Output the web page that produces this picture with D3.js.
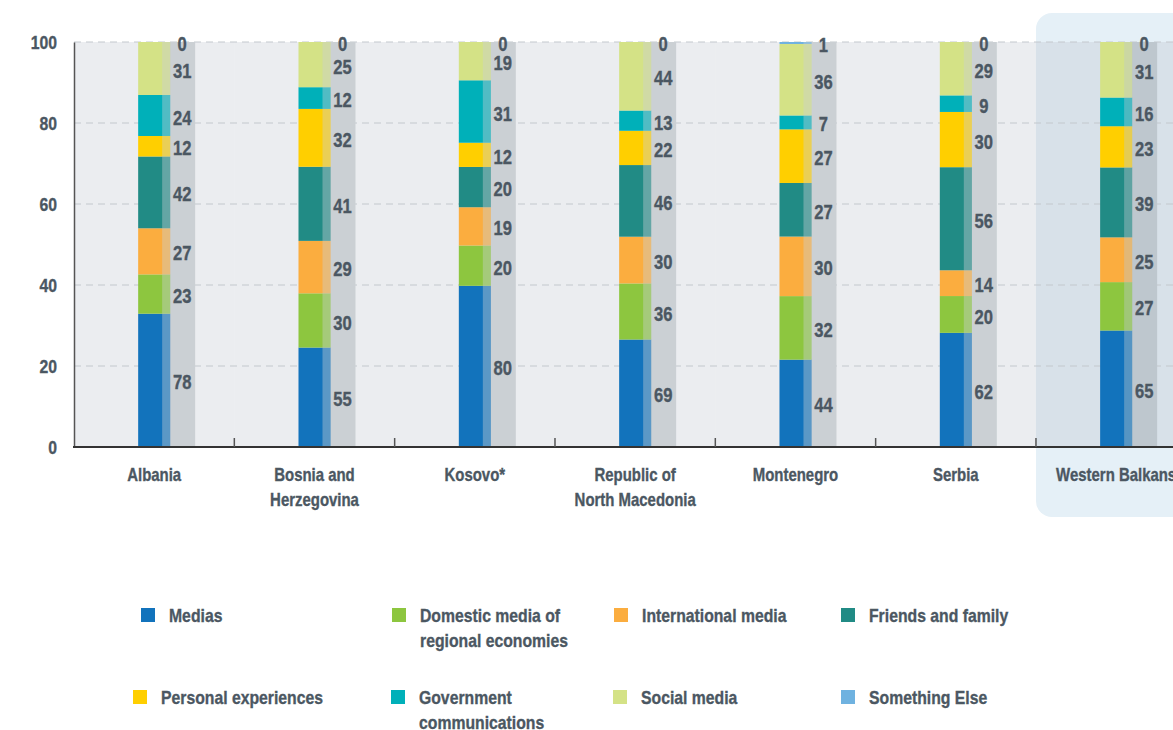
<!DOCTYPE html>
<html>
<head>
<meta charset="utf-8">
<script src="https://cdn.jsdelivr.net/npm/d3@7"></script>
<style>
  body { margin: 0; background: #fff; }
  svg { display: block; font-family: "Liberation Sans", Arial, sans-serif; font-weight: bold; }
  svg text { stroke: #4b5762; stroke-width: 0.35px; }
</style>
</head>
<body>
<svg id="chart" width="1173" height="730"></svg>
<script>
// categories and series values (raw counts, bars are shown as share of 100)
var categories = ['Albania', 'Bosnia and Herzegovina', 'Kosovo*', 'Republic of North Macedonia',
                  'Montenegro', 'Serbia', 'Western Balkans'];
var catLines = [['Albania'], ['Bosnia and', 'Herzegovina'], ['Kosovo*'], ['Republic of', 'North Macedonia'],
                ['Montenegro'], ['Serbia'], ['Western Balkans']];

var seriesNames = ['Medias', 'Domestic media of regional economies', 'International media', 'Friends and family',
                   'Personal experiences', 'Government communications', 'Social media', 'Something Else'];
var legendLines = [['Medias'], ['Domestic media of', 'regional economies'], ['International media'], ['Friends and family'],
                   ['Personal experiences'], ['Government', 'communications'], ['Social media'], ['Something Else']];

var medias        = [78, 55, 80, 69, 44, 62, 65];
var domestic      = [23, 30, 20, 36, 32, 20, 27];
var international = [27, 29, 19, 30, 30, 14, 25];
var friends       = [42, 41, 20, 46, 27, 56, 39];
var personal      = [12, 32, 12, 22, 27, 30, 23];
var government    = [24, 12, 31, 13,  7,  9, 16];
var social        = [31, 25, 19, 44, 36, 29, 31];
var somethingElse = [ 0,  0,  0,  0,  1,  0,  0];

var yTicks = [0, 20, 40, 60, 80, 100];

var colors = ['#1273bc', '#8dc63f', '#fbad3f', '#218b85', '#ffcf00', '#00b0b9', '#d4e286', '#6fb2e0'];
var seriesValues = [medias, domestic, international, friends, personal, government, social, somethingElse];

var rows = categories.map(function(c, i) {
  var r = { cat: c };
  seriesNames.forEach(function(s, j) { r[s] = seriesValues[j][i]; });
  return r;
});

var textColor = '#4b5762';
var highlight = 'Western Balkans';
var squeeze = 0.83; // narrow the font to look like a condensed face

var svg = d3.select('#chart');

var x = d3.scaleBand()
  .domain(categories)
  .range([74, 1196.3]);

var y = d3.scaleLinear()
  .domain([0, 1])
  .range([447, 42]);

// places a condensed text at (px, py)
function place(sel, px, py) {
  sel.attr('transform', function(d, i) {
    return 'translate(' + px(d, i) + ',' + py(d, i) + ') scale(' + squeeze + ',1)';
  });
}

// highlight panel behind Western Balkans
svg.append('rect')
  .attr('x', x(highlight))
  .attr('y', 13)
  .attr('width', x.bandwidth() + 40)
  .attr('height', 504)
  .attr('rx', 16)
  .attr('fill', '#e5f0f7');

// plot background
svg.selectAll('.bg')
  .data(categories)
  .enter().append('rect')
    .attr('x', function(d) { return x(d); })
    .attr('y', y(1))
    .attr('width', x.bandwidth() + 0.5)
    .attr('height', y(0) - y(1))
    .attr('fill', function(d) { return d == highlight ? '#d8e1e9' : '#ebedf0'; });

// grid
svg.selectAll('.grid')
  .data(yTicks.slice(1))
  .enter().append('line')
    .attr('x1', 74).attr('x2', 1173)
    .attr('y1', function(d) { return y(d / 100); })
    .attr('y2', function(d) { return y(d / 100); })
    .attr('stroke', '#c3c8cd')
    .attr('stroke-width', 1)
    .attr('stroke-dasharray', '7,5');

// grey value columns
var cx = function(d) { return x(d) + x.bandwidth() / 2; };
svg.selectAll('.col')
  .data(categories)
  .enter().append('rect')
    .attr('x', function(d) { return cx(d) + 8; })
    .attr('y', y(1))
    .attr('width', 33)
    .attr('height', y(0) - y(1))
    .attr('fill', function(d) { return d == highlight ? '#bec7ce' : '#cbd0d4'; });

var stack = d3.stack()
  .keys(seriesNames)
  .offset(d3.stackOffsetExpand);
var layers = stack(rows);

var g = svg.selectAll('.layer')
  .data(layers)
  .enter().append('g')
    .attr('fill', function(d, i) { return colors[i]; });

g.selectAll('rect')
  .data(function(d) { return d; })
  .enter().append('rect')
    .attr('x', function(d) { return cx(d.data.cat) - 16; })
    .attr('y', function(d) { return y(d[1]); })
    .attr('width', 32)
    .attr('height', function(d) { return y(d[0]) - y(d[1]); });

// translucent strip where the bar meets the value column
svg.selectAll('.strip')
  .data(categories)
  .enter().append('rect')
    .attr('x', function(d) { return cx(d) + 8; })
    .attr('y', y(1))
    .attr('width', 8)
    .attr('height', y(0) - y(1))
    .attr('fill', function(d) { return d == highlight ? '#bec7ce' : '#cbd0d4'; })
    .attr('opacity', 0.4);

// value labels
var vl = g.selectAll('text')
  .data(function(d) { return d.map(function(p) { p.key = d.key; return p; }); })
  .enter().append('text')
    .attr('text-anchor', 'middle')
    .attr('dominant-baseline', 'central')
    .attr('fill', textColor)
    .attr('font-size', 20)
    .text(function(d) { return d.data[d.key]; });
place(vl,
  function(d) { return cx(d.data.cat) + 28; },
  function(d) { return (y(d[0]) + y(d[1])) / 2 + 2; });

// axes
var yAxis = d3.axisLeft(y)
  .tickValues(yTicks.map(function(t) { return t / 100; }))
  .tickFormat(function(d) { return Math.round(d * 100); })
  .tickSize(0)
  .tickPadding(17);

var ya = svg.append('g')
  .attr('transform', 'translate(74,0)')
  .call(yAxis);
ya.select('.domain').attr('stroke', '#555').attr('stroke-width', 1.5);
ya.selectAll('text')
  .attr('font-size', 19)
  .attr('font-family', null)
  .attr('fill', textColor)
  .attr('x', -17 / squeeze)
  .attr('transform', 'scale(' + squeeze + ',1)');

svg.append('line')
  .attr('x1', 73).attr('x2', 1173)
  .attr('y1', y(0)).attr('y2', y(0))
  .attr('stroke', '#333')
  .attr('stroke-width', 2);

svg.selectAll('.tick-b')
  .data(categories.slice(1))
  .enter().append('line')
    .attr('x1', function(d) { return x(d); })
    .attr('x2', function(d) { return x(d); })
    .attr('y1', y(0))
    .attr('y2', y(0) - 9)
    .attr('stroke', '#555')
    .attr('stroke-width', 1.5);

// category labels
var cl = svg.selectAll('.cat')
  .data(categories)
  .enter().append('text')
    .attr('text-anchor', 'middle')
    .attr('fill', textColor)
    .attr('font-size', 18);
place(cl, cx, function() { return 481; });
cl.each(function(d, i) {
  var t = d3.select(this);
  catLines[i].forEach(function(line, k) {
    t.append('tspan').attr('x', 0).attr('dy', k == 0 ? 0 : 25).text(line);
  });
});

// legend
var legendX = [[141, 392, 614, 841], [133, 391, 613, 841]];
var legendY = [608, 690];
var lg = svg.selectAll('.leg')
  .data(seriesNames)
  .enter().append('g')
    .attr('transform', function(d, i) {
      var r = Math.floor(i / 4), c = i % 4;
      return 'translate(' + legendX[r][c] + ',' + legendY[r] + ')';
    });
lg.append('rect')
  .attr('width', 14).attr('height', 14)
  .attr('fill', function(d, i) { return colors[i]; });
var lt = lg.append('text')
  .attr('fill', textColor)
  .attr('font-size', 19);
place(lt, function() { return 28; }, function() { return 14; });
lt.each(function(d, i) {
  var t = d3.select(this);
  legendLines[i].forEach(function(line, k) {
    t.append('tspan').attr('x', 0).attr('dy', k == 0 ? 0 : 25).text(line);
  });
});
</script>
</body>
</html>
